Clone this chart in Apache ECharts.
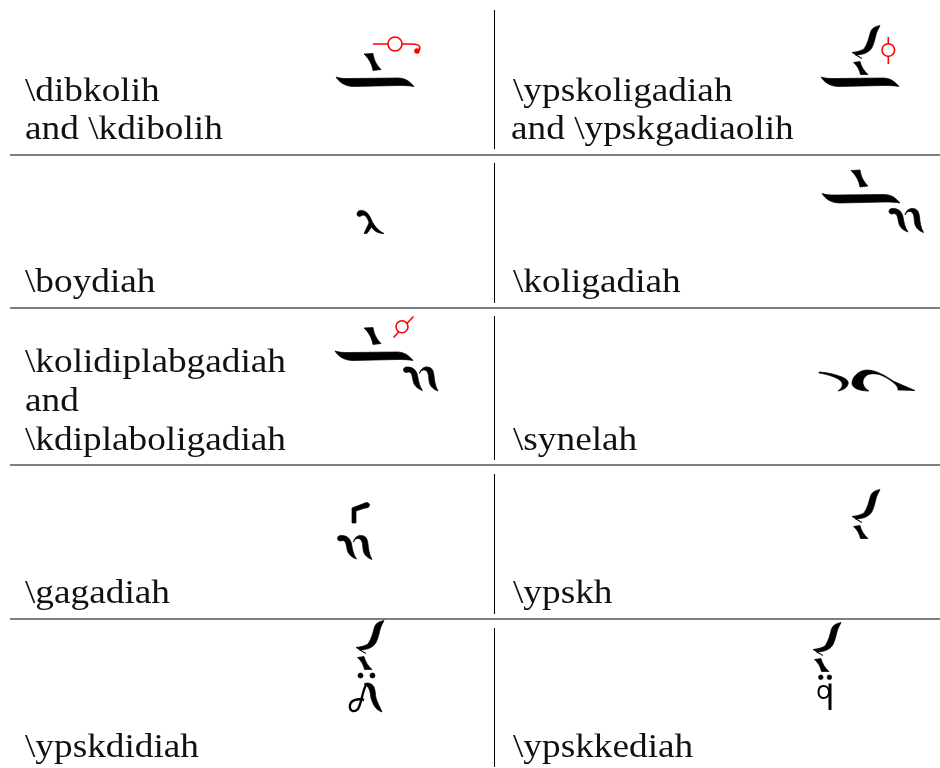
<!DOCTYPE html>
<html>
<head>
<meta charset="utf-8">
<style>html,body{margin:0;background:#fff}#main{width:940px;height:768px}</style>
<script src="https://cdn.jsdelivr.net/npm/echarts@6/dist/echarts.min.js"></script>
</head>
<body>
<div id="main"></div>
<script>
// cell captions: text, x, baseline y
var captions = [
    ['\\dibkolih', 25, 100], ['and \\kdibolih', 25, 138],
    ['\\ypskoligadiah', 513, 100], ['and \\ypskgadiaolih', 511, 138],
    ['\\boydiah', 25, 291], ['\\koligadiah', 513, 291],
    ['\\kolidiplabgadiah', 25, 371], ['and', 25, 410], ['\\kdiplaboligadiah', 25, 449],
    ['\\synelah', 513, 449],
    ['\\gagadiah', 25, 602], ['\\ypskh', 513, 602],
    ['\\ypskdidiah', 25, 756], ['\\ypskkediah', 513, 756]
];
// table rules
var ruleRows = [155, 308, 465, 619];
var ruleColumn = [[10, 149], [163, 303], [316, 460], [474, 614], [628, 767]];

// glyph outlines, each drawn from its own top left corner
var glyphPaths = {
    bar: 'M0,0 C4,1.5 8,1.5 14,1.5 L62,1 C70,1 74,5 78,9.5 C73,8.5 68,8.5 62,8.5 L18,9.5 C9,9.5 3,5 0,0 Z',
    oligon: 'M0,0.5 L9,0 C10,6 12,11 17,16 L9,17 C8,11 5,5 0,0.5 Z',
    hooks: 'M0,3.5 C0,1 2,0 5,0.5 C10,1 13,4 14,9 C15,14 15.5,19 19,24 C13.5,22 10.5,19 9.5,14 C8.5,9 8.5,6 5,5.5 C3,6.5 0,6 0,3.5 Z'
        + ' M16,7 C17,2 21,0 24,0.5 C28.5,1 30,4 30.5,9 C31,14 31.5,19 34.5,24.5 C29,22.5 26,19 25.5,14 C25,9 25,5 21.5,3.5 C19.5,3 17,4 16,7 Z',
    ypsili: 'M28,0.5 C23,1.5 20,3 18.5,7 C17,12 16,18 12,24 C9,26 4,27 0,27.5 L10,33.5 L3.5,30 C10,30 17,28 20,22.5 C22.5,17.5 23,13 24.5,8 C25.5,5 27,3 28,0.5 Z'
        + ' M1.5,37.5 L8,36.5 C9,41 12,46 16,49.5 L8.5,49.5 C7.5,44.5 5,40.5 1.5,37.5 Z',
    lambda: 'M0,4 C0,1 3,0 5,0.5 C9,1 12,4 14,9 C16,14 20,20 27,23.5 C21,23.5 17,21 14.5,17 L10,23.5 L7,23.5 L12,13 C11,9 9,5 6,5 C3,7 0,7 0,4 Z',
    synela: 'M0,2 C8,2.5 15,4 23,7 C28,9 30,12 29,14 C28,18 24,20 19,21 C22,19 24,16 23,13 C22,9 12,5 0,3 Z'
        + ' M33,13 C33,7 40,0 48,0 C57,0 67,6 74,11 L96,20.5 L79,20 C80,16 72,10 64,6 C58,3 50,3 47,6 C42,10 43,17 50,21 C40,21 33,18 33,13 Z',
    gamma: 'M0,6 L13,1 C15,0 17.5,1 17.5,3 C17.5,5.5 15,6 13,6 L4,9 L4,21 L0,21 Z',
    dialytika: 'M0,2.5 A2.5,2.5 0 1 0 5,2.5 A2.5,2.5 0 1 0 0,2.5 Z M12,2.5 A2.5,2.5 0 1 0 17,2.5 A2.5,2.5 0 1 0 12,2.5 Z',
    dialytikaTight: 'M0,2.3 A2.3,2.3 0 1 0 4.6,2.3 A2.3,2.3 0 1 0 0,2.3 Z M8.6,2.3 A2.3,2.3 0 1 0 13.2,2.3 A2.3,2.3 0 1 0 8.6,2.3 Z',
    didiLeg: 'M14,1 C17,-1 22,0 24,4 C26,9 25,14 27,18 C29,23 31,26 32,29 C26,27 23,22 21,15 C20,9 20,4 14,1 Z'
};
// which glyph goes where
var glyphPlaces = [
    ['bar', 336, 77], ['oligon', 364, 53.5],
    ['bar', 821, 77], ['ypsili', 852, 25],
    ['lambda', 357, 210],
    ['bar', 822, 193.5], ['oligon', 851, 170], ['hooks', 889, 208],
    ['bar', 335, 351], ['oligon', 364, 327.5], ['hooks', 403.5, 366.5],
    ['synela', 819, 370],
    ['gamma', 352, 502], ['hooks', 337.5, 535],
    ['ypsili', 852, 489],
    ['ypsili', 356, 620], ['dialytika', 358, 673], ['didiLeg', 350, 683],
    ['ypsili', 813, 622], ['dialytikaTight', 818.5, 675]
];
// thin strokes
var thinStrokes = [
    ['M366,685 C362,692 362,702 358,709 C354,713 349,711 350,705 C351,700 358,698 364,700', '#000', 2.4],
    ['M823.5,686 C819.5,686 818.5,689 818.5,692 C818.5,695 820,698 823.5,698 C827,698 829,695 829,692 C829,689 827,686 823.5,686 Z', '#000', 2],
    ['M830,683.5 L830,710', '#000', 3],
    ['M373,44 L411,44 C416,44 420,45 420,48 C420,49 419,50 418,51', '#ff0000', 1.6],
    ['M888.3,37 L888.3,64', '#ff0000', 1.6],
    ['M393.5,337.5 L413.5,316.5', '#ff0000', 1.6]
];
// red circles
var redRings = [[395, 44, 7], [888.3, 50, 6.3], [402, 326.8, 6]];
var redDots = [[417, 51, 2.8]];

var graphicEls = [];
for (var i = 0; i < ruleRows.length; i++) {
    graphicEls.push({type: 'rect', silent: true, shape: {x: 10, y: ruleRows[i] - 0.5, width: 930, height: 1}, style: {fill: '#000'}});
}
for (var j = 0; j < ruleColumn.length; j++) {
    graphicEls.push({type: 'rect', silent: true, shape: {x: 494, y: ruleColumn[j][0], width: 1, height: ruleColumn[j][1] - ruleColumn[j][0]}, style: {fill: '#000'}});
}
for (var k = 0; k < captions.length; k++) {
    graphicEls.push({
        type: 'text', silent: true, x: captions[k][1], y: captions[k][2] - 24, scaleX: 1.13,
        style: {text: captions[k][0], fill: '#111', font: '33px "Liberation Serif"', verticalAlign: 'top', textAlign: 'left'}
    });
}
for (var r = 0; r < redRings.length; r++) {
    graphicEls.push({type: 'circle', silent: true, shape: {cx: redRings[r][0], cy: redRings[r][1], r: redRings[r][2]}, style: {fill: '#fff', stroke: '#ff0000', lineWidth: 1.6}, z: 3});
}
for (var d = 0; d < redDots.length; d++) {
    graphicEls.push({type: 'circle', silent: true, shape: {cx: redDots[d][0], cy: redDots[d][1], r: redDots[d][2]}, style: {fill: '#ff0000'}, z: 3});
}

var myChart = echarts.init(document.getElementById('main'));
var option = {
    animation: false,
    backgroundColor: '#fff',
    graphic: {elements: graphicEls},
    series: [
        {
            // filled glyph outlines
            type: 'custom',
            coordinateSystem: 'none',
            silent: true,
            data: glyphPlaces,
            renderItem: function (params) {
                var g = glyphPlaces[params.dataIndex];
                return {type: 'path', x: g[1], y: g[2], shape: {pathData: glyphPaths[g[0]]}, style: {fill: '#000', stroke: '#000', lineWidth: 0.7}};
            }
        },
        {
            // hairlines
            type: 'custom',
            coordinateSystem: 'none',
            silent: true,
            z: 1,
            data: thinStrokes,
            renderItem: function (params) {
                var s = thinStrokes[params.dataIndex];
                return {type: 'path', shape: {pathData: s[0]}, style: {fill: 'none', stroke: s[1], lineWidth: s[2]}};
            }
        }
    ]
};
myChart.setOption(option);
</script>
</body>
</html>
